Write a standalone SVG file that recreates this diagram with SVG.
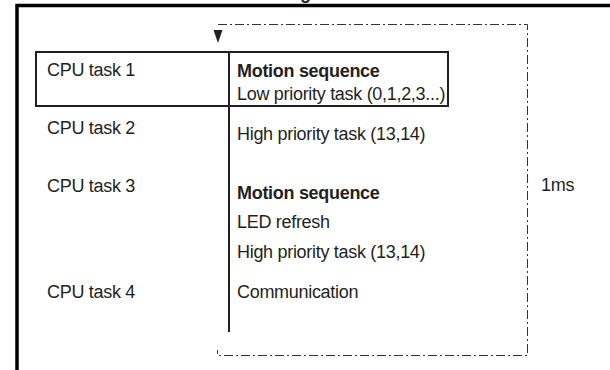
<svg xmlns="http://www.w3.org/2000/svg" width="610" height="370" viewBox="0 0 610 370">
<style>
text{font-family:"Liberation Sans",Arial,sans-serif;font-size:18px;letter-spacing:-0.3px;fill:#231f20}
.b{font-weight:bold}
.frame{stroke:#000;stroke-width:3.5;fill:none}
.dash{stroke:#333;stroke-width:1;fill:none;stroke-dasharray:9,3,2,3}
.line{stroke:#231f20;stroke-width:2;fill:none}
</style>
<rect width="610" height="370" fill="#fff"/>
<g id="frame">
<path class="frame" d="M17,370 V5.5 H610"/>
<text class="b" x="300" y="-1.5">g</text>
</g>
<g id="connectors">
<path class="dash" d="M218,24.5 H527.5 V355.5 H217.5 V350"/>
<polygon points="213.5,30 222.5,30 218,43" fill="#231f20"/>
<line class="line" x1="229" y1="52" x2="229" y2="332"/>
</g>
<g id="task1">
<rect class="line" x="36" y="52" width="412" height="54"/>
<text x="47" y="76">CPU task 1</text>
<text class="b" x="237" y="77">Motion sequence</text>
<text x="237" y="100">Low priority task (0,1,2,3...)</text>
</g>
<g id="task2">
<text x="47" y="134">CPU task 2</text>
<text x="237" y="140">High priority task (13,14)</text>
</g>
<g id="task3">
<text x="47" y="192">CPU task 3</text>
<text class="b" x="237" y="199">Motion sequence</text>
<text x="237" y="228">LED refresh</text>
<text x="237" y="258">High priority task (13,14)</text>
</g>
<g id="task4">
<text x="47" y="298">CPU task 4</text>
<text x="237" y="298">Communication</text>
</g>
<g id="period">
<text x="541" y="191">1ms</text>
</g>
</svg>
